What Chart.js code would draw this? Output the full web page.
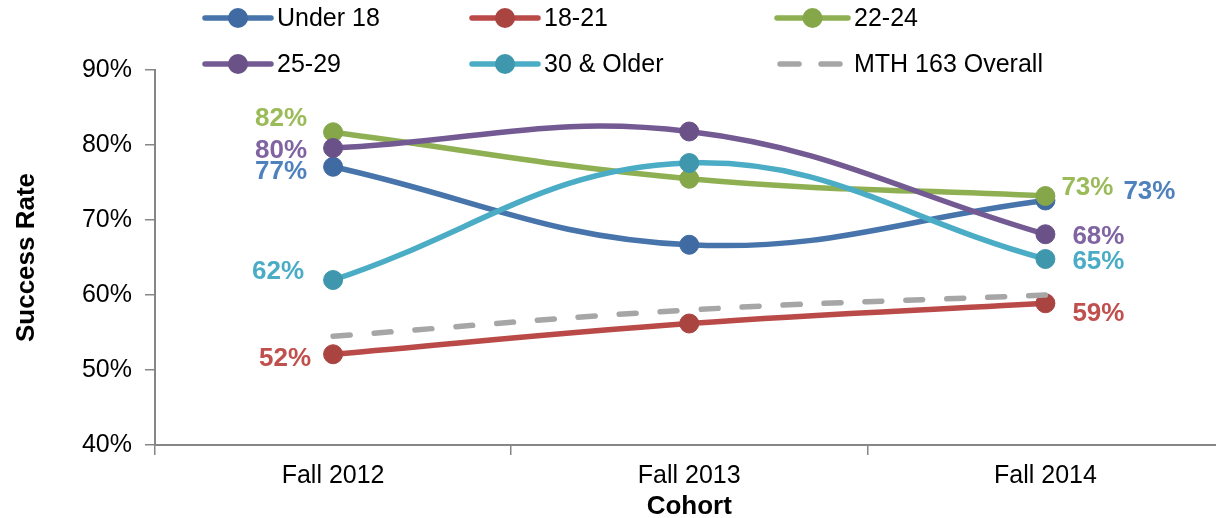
<!DOCTYPE html>
<html><head><meta charset="utf-8">
<script src="https://cdn.jsdelivr.net/npm/chart.js@4"></script>
<style>html,body{margin:0;padding:0;overflow:hidden;background:#fff}#wrap{width:1234px;height:518px;position:relative}</style>
</head><body><div id="wrap"><canvas id="c" width="1234" height="518"></canvas></div>
<script>
// ---- data ----
const categories = ['Fall 2012', 'Fall 2013', 'Fall 2014'];
const seriesNames = ['Under 18', '18-21', '22-24', '25-29', '30 & Older', 'MTH 163 Overall'];
const under18 = [77.1, 66.7, 72.6];
const age18to21 = [52.1, 56.2, 58.9];
const age22to24 = [81.7, 75.5, 73.2];
const age25to29 = [79.6, 81.8, 68.1];
const age30plus = [62.0, 77.6, 64.8];
const overall = [54.5, 58.0, 60.0];
const yTicks = [40, 50, 60, 70, 80, 90];
const yTitle = 'Success Rate';
const xTitle = 'Cohort';

// ---- styles ----
const FONT = "'Liberation Sans', Arial, sans-serif";
const lineColors = ['#4674AB', '#B94A48', '#8FB052', '#735A93', '#4BACC6', '#A6A6A6'];
const pointColors = ['#3F6BA2', '#A94441', '#86A64A', '#6A5288', '#3F97AD', '#A6A6A6'];
const labelColors = ['#4F81BD', '#C0504D', '#9BBB59', '#8064A2', '#4BACC6', '#A6A6A6'];
// label offsets [dx, dy] from the point for first / last category
const labelOffsets = [
  {0: [-52, 5], 2: [104, -9]},
  {0: [-48, 5], 2: [53, 11]},
  {0: [-52, -13], 2: [42, -8]},
  {0: [-52, 3], 2: [53, 3]},
  {0: [-55, -8], 2: [53, 3]},
  {}
];
const legendSlots = [
  {x0: 205, x1: 271, tx: 277, y: 18},
  {x0: 472, x1: 538, tx: 544, y: 18},
  {x0: 777, x1: 848, tx: 854, y: 18},
  {x0: 205, x1: 271, tx: 277, y: 64},
  {x0: 472, x1: 538, tx: 544, y: 64},
  {x0: 777, x1: 848, tx: 854, y: 64}
];

const seriesValues = [under18, age18to21, age22to24, age25to29, age30plus, overall];

const datasets = seriesValues.map((vals, i) => {
  const dashed = i === 5;
  return {
    label: seriesNames[i],
    data: vals,
    borderColor: lineColors[i],
    backgroundColor: pointColors[i],
    borderWidth: 5.5,
    tension: 0.4,
    borderDash: dashed ? [17, 24] : [],
    borderCapStyle: dashed ? 'round' : 'butt',
    pointRadius: dashed ? 0 : 9.5,
    pointHoverRadius: dashed ? 0 : 9.5,
    pointBackgroundColor: pointColors[i],
    pointBorderColor: pointColors[i],
    pointBorderWidth: 1,
    fill: false,
    order: 10 - i
  };
});

const labelPlugin = {
  id: 'valueLabels',
  afterDatasetsDraw(chart) {
    const ctx = chart.ctx;
    ctx.save();
    ctx.font = 'bold 26px ' + FONT;
    ctx.textAlign = 'center';
    ctx.textBaseline = 'middle';
    chart.data.datasets.forEach((ds, i) => {
      const meta = chart.getDatasetMeta(i);
      const offs = labelOffsets[i];
      Object.keys(offs).forEach(k => {
        const el = meta.data[k];
        if (!el) return;
        ctx.fillStyle = labelColors[i];
        ctx.fillText(Math.round(ds.data[k]) + '%', el.x + offs[k][0], el.y + offs[k][1]);
      });
    });
    ctx.restore();
  }
};

const legendPlugin = {
  id: 'customLegend',
  afterDraw(chart) {
    const ctx = chart.ctx;
    ctx.save();
    chart.data.datasets.forEach((ds, i) => {
      const s = legendSlots[i];
      ctx.beginPath();
      ctx.lineWidth = 5.5;
      ctx.strokeStyle = lineColors[i];
      if (i === 5) {
        ctx.lineCap = 'round';
        ctx.setLineDash([19, 22]);
        ctx.moveTo(s.x0 + 3, s.y);
        ctx.lineTo(s.x1 - 3, s.y);
        ctx.stroke();
        ctx.setLineDash([]);
      } else {
        ctx.lineCap = 'round';
        ctx.moveTo(s.x0, s.y);
        ctx.lineTo(s.x1, s.y);
        ctx.stroke();
        ctx.beginPath();
        ctx.fillStyle = pointColors[i];
        ctx.arc((s.x0 + s.x1) / 2, s.y, 10, 0, Math.PI * 2);
        ctx.fill();
      }
      ctx.fillStyle = '#000';
      ctx.font = '25px ' + FONT;
      ctx.textAlign = 'left';
      ctx.textBaseline = 'middle';
      ctx.fillText(ds.label, s.tx, s.y + 1);
    });
    ctx.restore();
  }
};

new Chart(document.getElementById('c'), {
  type: 'line',
  data: {labels: categories, datasets},
  plugins: [labelPlugin, legendPlugin],
  options: {
    responsive: false,
    animation: false,
    devicePixelRatio: 1,
    layout: {padding: {top: 70, left: 0, right: 0, bottom: 0}},
    plugins: {legend: {display: false}, tooltip: {enabled: false}},
    scales: {
      x: {
        offset: true,
        grid: {offset: true, drawOnChartArea: false, drawTicks: true, tickLength: 10, color: '#868686', lineWidth: 1.5},
        border: {color: '#868686', width: 2},
        ticks: {color: '#000', font: {family: FONT, size: 25}, padding: 6, autoSkip: false, maxRotation: 0},
        title: {display: true, text: xTitle, color: '#000', font: {family: FONT, size: 26, weight: 'bold'}, padding: {top: 0, bottom: -4}},
        afterFit(s) { s.height = 73; }
      },
      y: {
        min: yTicks[0],
        max: yTicks[yTicks.length - 1],
        afterBuildTicks(s) { s.ticks = yTicks.map(v => ({value: v})); },
        grid: {drawOnChartArea: false, drawTicks: true, tickLength: 10, color: '#868686', lineWidth: 1.5},
        border: {color: '#868686', width: 2},
        ticks: {color: '#000', font: {family: FONT, size: 25}, padding: 13, callback: v => v + '%'},
        title: {display: true, text: yTitle, color: '#000', font: {family: FONT, size: 26, weight: 'bold'}, padding: {top: 11, bottom: 0}},
        afterFit(s) { s.width = 155; }
      }
    }
  }
});
</script>
</body></html>
